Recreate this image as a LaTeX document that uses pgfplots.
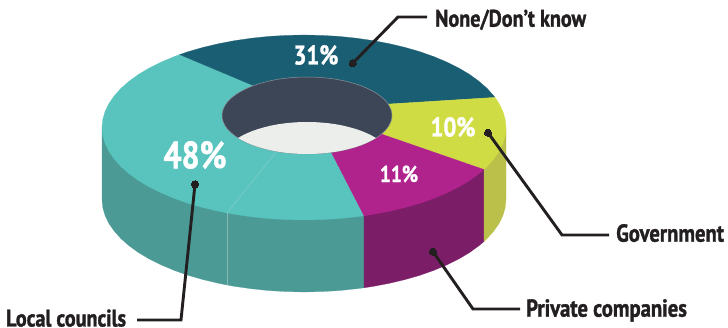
\documentclass[border=0pt]{standalone}
\usepackage{pgfplots}
\pgfplotsset{compat=1.18}
\usepackage{fontspec}
\setmainfont{PT Sans}[FakeStretch=0.84,BoldFeatures={FakeBold=1.3}]
\definecolor{tealtop}{HTML}{58C4BD}
\definecolor{tealside}{HTML}{4C9A95}
\definecolor{tealseam}{HTML}{85CFCA}
\definecolor{tealseamb}{HTML}{86B8B4}
\definecolor{navy}{HTML}{1A5E73}
\definecolor{limetop}{HTML}{CFDC43}
\definecolor{limeside}{HTML}{BBC04B}
\definecolor{magtop}{HTML}{B0228C}
\definecolor{magside}{HTML}{7C1D68}
\definecolor{holewall}{HTML}{3C4657}
\definecolor{holefloor}{HTML}{ECEEEB}
\definecolor{holeedge}{HTML}{8E949B}
\definecolor{leader}{HTML}{231F20}
\pgfplotsset{
  face/.style={fill=#1,draw=#1,line width=0.2pt},
  pointer/.style={color=leader,line width=2.9pt,line join=miter,mark=*,mark indices={1},
    mark size=3.6pt,mark options={fill=leader,draw=leader,line width=0pt}},
}
\begin{document}
\begin{tikzpicture}
\begin{axis}[
  width=728pt,height=328pt,scale only axis,
  xmin=0,xmax=728,ymin=0,ymax=328,y dir=reverse,
  hide axis,clip=false,
]
% Keep the whole plotting area inside the page
\path (axis cs:0,0) rectangle (axis cs:728,328);
% Outer walls of the ring
\addplot[face=tealside] coordinates {(102,127.5)(102,199.5)(102.8,207.6)(105.1,215.6)(108.9,223.4)(114.2,231.1)(120.9,238.6)(129.1,245.75)(138.5,252.6)(149.3,259)(161.2,264.9)(174.2,270.4)(188.1,275.3)(203,279.6)(218.6,283.3)(227,285)(234.9,286.4)(251.7,288.8)(268.9,290.6)(286.4,291.6)(304,292)(321.6,291.6)(339.1,290.6)(356.3,288.8)(364,287.8)(364,215.8)} -- cycle;
\addplot[face=magside] coordinates {(364,215.8)(364,287.8)(373.1,286.4)(389.4,283.3)(405,279.6)(419.9,275.3)(433.8,270.4)(446.8,264.9)(458.7,259)(469.5,252.6)(478.9,245.75)(484,241.5)(484,169.5)} -- cycle;
\addplot[face=limeside] coordinates {(484,169.5)(484,241.5)(487.1,238.6)(493.8,231.1)(499.1,223.4)(502.9,215.6)(505.2,207.6)(506,199.5)(506,127.5)} -- cycle;
% Top faces: 48% teal, 31% navy, 10% lime, 11% magenta
\addplot[face=tealtop] coordinates {(309,109)(364,215.8)(356.3,216.8)(339.1,218.6)(321.6,219.6)(304,220)(286.4,219.6)(268.9,218.6)(251.7,216.8)(234.9,214.4)(227,213)(218.6,211.3)(203,207.6)(188.1,203.3)(174.2,198.4)(161.2,192.9)(149.3,187)(138.5,180.6)(129.1,173.75)(120.9,166.6)(114.2,159.1)(108.9,151.4)(105.1,143.6)(102.8,135.6)(102,127.5)(102.8,119.4)(105.1,111.4)(108.9,103.6)(114.2,95.9)(120.9,88.4)(129.1,81.25)(138.5,74.4)(149.3,68)(161.2,62.1)(174.2,56.6)(179.6,54.6)} -- cycle;
\addplot[face=navy] coordinates {(309,109)(179.6,54.6)(188.1,51.7)(203,47.4)(218.6,43.7)(234.9,40.6)(251.7,38.2)(268.9,36.4)(286.4,35.4)(304,35)(321.6,35.4)(339.1,36.4)(356.3,38.2)(373.1,40.6)(389.4,43.7)(405,47.4)(419.9,51.7)(433.8,56.6)(446.8,62.1)(458.7,68)(469.5,74.4)(478.9,81.25)(487.1,88.4)(493.8,95.9)(495,97.4)} -- cycle;
\addplot[face=limetop] coordinates {(309,109)(495,97.4)(499.1,103.6)(502.9,111.4)(505.2,119.4)(506,127.5)(505.2,135.6)(502.9,143.6)(499.1,151.4)(493.8,159.1)(487.1,166.6)(484,169.5)} -- cycle;
\addplot[face=magtop] coordinates {(309,109)(484,169.5)(478.9,173.75)(469.5,180.6)(458.7,187)(446.8,192.9)(433.8,198.4)(419.9,203.3)(405,207.6)(389.4,211.3)(373.1,214.4)(364,215.8)} -- cycle;
% Hole: inner wall, then the visible floor
\addplot[fill=holewall,draw=holeedge,line width=0.5pt] coordinates {(392,115.5)(391.7,118.9)(390.7,122.2)(389.1,125.5)(386.9,128.7)(384,131.8)(380.6,134.75)(376.6,137.6)(372.1,140.2)(367.1,142.7)(361.6,145)(355.8,147)(349.5,148.8)(342.9,150.4)(336.1,151.7)(329,152.7)(321.8,153.4)(314.4,153.9)(307,154)(299.6,153.9)(292.2,153.4)(285,152.7)(277.9,151.7)(271.1,150.4)(264.5,148.8)(258.2,147)(252.4,145)(246.9,142.7)(241.9,140.2)(237.4,137.6)(233.4,134.75)(230,131.8)(227.1,128.7)(224.9,125.5)(223.3,122.2)(222.3,118.9)(222,115.5)(222.3,112.1)(223.3,108.8)(224.9,105.5)(227.1,102.3)(230,99.2)(233.4,96.25)(237.4,93.4)(241.9,90.8)(246.9,88.3)(252.4,86)(258.2,84)(264.5,82.2)(271.1,80.6)(277.9,79.3)(285,78.3)(292.2,77.6)(299.6,77.1)(307,77)(314.4,77.1)(321.8,77.6)(329,78.3)(336.1,79.3)(342.9,80.6)(349.5,82.2)(355.8,84)(361.6,86)(367.1,88.3)(372.1,90.8)(376.6,93.4)(380.6,96.25)(384,99.2)(386.9,102.3)(389.1,105.5)(390.7,108.8)(391.7,112.1)} -- cycle;
\addplot[fill=holefloor,draw=none] coordinates {(238,138)(241.9,135.8)(246.9,133.3)(252.4,131)(258.2,129)(264.5,127.2)(271.1,125.6)(277.9,124.3)(285,123.3)(292.2,122.6)(299.6,122.1)(307,122)(314.4,122.1)(321.8,122.6)(329,123.3)(336.1,124.3)(342.9,125.6)(349.5,127.2)(355.8,129)(361.6,131)(367.1,133.3)(372.1,135.8)(376,138)(372.1,140.2)(367.1,142.7)(361.6,145)(355.8,147)(349.5,148.8)(342.9,150.4)(336.1,151.7)(329,152.7)(321.8,153.4)(314.4,153.9)(307,154)(299.6,153.9)(292.2,153.4)(285,152.7)(277.9,151.7)(271.1,150.4)(264.5,148.8)(258.2,147)(252.4,145)(246.9,142.7)(241.9,140.2)} -- cycle;
% Hairline seams in the teal segment
\addplot[color=tealseam,line width=0.5pt] coordinates {(276,152)(227,213)};
\addplot[color=tealseamb,line width=0.5pt] coordinates {(227,213)(227,285)};
% Pointers from each segment to its name
\addplot[pointer] coordinates {(352.7,63.3)(398,17)(427,17)};
\addplot[pointer] coordinates {(488,132.7)(562,235)(609,235)};
\addplot[pointer] coordinates {(433,251.7)(473,309)(520,309)};
\addplot[pointer] coordinates {(195,184.3)(181,320)(137,320)};
% Names
\node[anchor=base west,inner sep=0pt,text=leader,font=\fontsize{24}{24}\selectfont\bfseries] at (axis cs:435,26.7) {None/Don’t know};
\node[anchor=base west,inner sep=0pt,text=leader,font=\fontsize{24.6}{24.6}\selectfont\bfseries] at (axis cs:616,241.7) {Government};
\node[anchor=base west,inner sep=0pt,text=leader,font=\fontsize{24.6}{24.6}\selectfont\bfseries] at (axis cs:526,316.7) {Private companies};
\node[anchor=base west,inner sep=0pt,text=leader,font=\fontsize{24}{24}\selectfont\bfseries] at (axis cs:6,326.5) {Local councils};
% Shares
\node[text=white,inner sep=0pt,font=\fontsize{27}{27}\selectfont\bfseries] at (axis cs:316,55) {31\%};
\node[text=white,inner sep=0pt,font=\fontsize{27}{27}\selectfont\bfseries] at (axis cs:453,127) {10\%};
\node[text=white,inner sep=0pt,font=\fontsize{23}{23}\selectfont\bfseries] at (axis cs:399,174) {11\%};
\node[text=white,inner sep=0pt,font=\fontsize{38}{38}\selectfont\bfseries] at (axis cs:195,155) {48\%};
\end{axis}
\end{tikzpicture}
\end{document}
